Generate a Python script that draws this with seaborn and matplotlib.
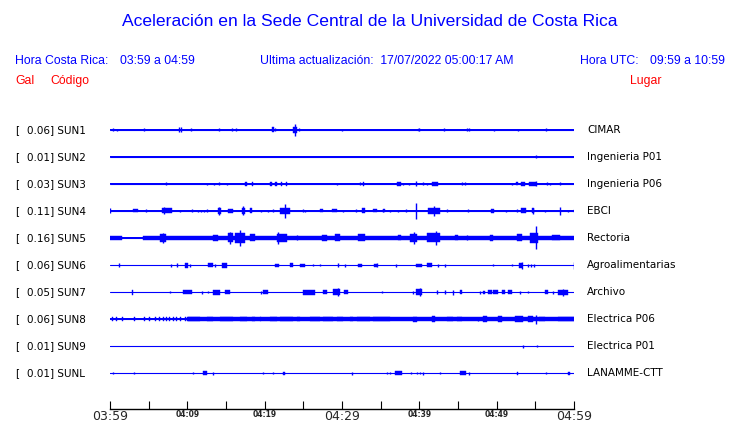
import numpy as np
import pandas as pd
import seaborn as sns
import matplotlib.pyplot as plt

# estaciones (de arriba hacia abajo)
codigos = ["SUN1", "SUN2", "SUN3", "SUN4", "SUN5", "SUN6", "SUN7", "SUN8", "SUN9", "SUNL"]
lugares = ["CIMAR", "Ingenieria P01", "Ingenieria P06", "EBCI", "Rectoria",
           "Agroalimentarias", "Archivo", "Electrica P06", "Electrica P01", "LANAMME-CTT"]
gal_max = [0.06, 0.01, 0.03, 0.11, 0.16, 0.06, 0.05, 0.06, 0.01, 0.01]
# ruido de fondo (media amplitud, en px de trazo)
ruido = [0.5, 0.5, 0.5, 0.6, 1.3, 0.5, 0.5, 1.0, 0.5, 0.5]

# eje de tiempo: minutos desde 03:59
minutos_ticks = [0, 5, 10, 15, 20, 25, 30, 35, 40, 45, 50, 55, 60]
etiquetas_grandes = {0: "03:59", 30: "04:29", 60: "04:59"}
etiquetas_chicas = {10: "04:09", 20: "04:19", 40: "04:39", 50: "04:49"}

# picos: (minuto, media amplitud)
picos = {
    "SUN1": [(0.39, 1.5), (0.91, 1), (4.40, 1.5), (8.92, 2.5), (9.12, 2.5), (10.47, 1.5),
             (14.09, 1.5), (15.77, 1.5), (16.29, 1.5), (21.33, 1.5), (23.92, 6), (24.44, 1.5),
             (30.00, 1), (39.95, 1.5), (43.19, 1.5), (46.16, 1.5), (46.42, 1.5), (49.65, 1),
             (52.76, 1), (56.38, 1.5)],
    "SUN2": [(55.08, 1.5)],
    "SUN3": [(7.24, 1.5), (12.54, 1), (13.45, 1), (14.09, 1.5), (15.13, 1), (29.35, 1),
             (32.33, 1.5), (37.88, 1), (38.66, 1), (39.57, 2.5), (40.47, 1.5), (40.99, 1),
             (45.51, 1.5), (45.90, 1.5), (51.98, 1), (55.08, 2.5), (56.51, 1.5), (56.90, 1),
             (58.19, 1.5)],
    "SUN4": [(0.06, 2.5), (4.66, 1.5), (6.98, 3.5), (9.05, 1), (10.60, 1.5), (11.38, 1),
             (11.77, 1), (12.15, 1), (12.54, 1.5), (14.09, 4), (17.20, 4.5), (19.52, 1),
             (20.43, 1), (21.08, 1.5), (22.63, 7), (24.95, 1.5), (25.21, 1), (30.13, 1),
             (31.81, 1.5), (35.30, 1.5), (36.20, 1), (37.24, 1), (38.27, 1.5), (39.57, 8),
             (41.89, 5), (43.58, 1.5), (46.29, 1.5), (51.20, 1), (52.63, 1.5), (54.70, 3),
             (56.25, 1), (58.19, 4), (59.22, 1), (60.0, 1.5)],
    "SUN5": [(6.85, 5), (15.52, 6), (16.81, 8), (21.72, 6), (24.18, 2.5), (39.31, 6),
             (42.15, 7), (46.16, 2.5), (55.08, 11.5)],
    "SUN6": [(1.16, 2), (7.89, 1.5), (8.66, 2), (10.34, 1.5), (13.58, 1.5), (26.25, 1),
             (27.15, 1), (29.48, 2), (30.39, 1.5), (34.52, 2), (36.98, 1.5), (42.41, 1.5),
             (43.32, 1.5), (49.52, 1), (51.98, 1), (53.27, 3.5), (54.05, 1.5), (54.44, 1.5),
             (54.83, 1.5), (60.0, 3.5)],
    "SUN7": [(7.76, 1), (11.90, 1.5), (12.67, 1), (19.52, 1.5), (29.48, 4), (35.17, 1),
             (39.18, 1.5), (40.08, 4), (42.28, 2), (43.32, 2), (44.35, 2.5), (47.84, 1.5),
             (53.01, 1.5), (54.05, 1), (57.28, 1.5), (58.58, 3.5)],
    "SUN8": [(47.58, 2), (55.08, 4.5)],
    "SUN9": [(53.40, 1.5), (55.21, 1)],
    "SUNL": [(0.39, 1), (3.10, 1), (10.73, 1), (13.32, 1.5), (19.78, 1), (21.08, 1),
             (31.29, 1.5), (35.82, 1), (36.20, 1), (38.92, 1), (39.70, 1), (40.08, 1),
             (40.47, 1.5), (42.67, 1), (46.42, 1.5), (56.38, 1)],
}

# rafagas: (minuto inicio, minuto fin, media amplitud)
rafagas = {
    "SUN1": [(20.95, 21.21, 2.5), (23.66, 24.18, 3), (39.82, 40.08, 1.2)],
    "SUN2": [],
    "SUN3": [(17.46, 17.66, 2), (18.30, 18.49, 2), (20.69, 20.95, 2), (21.40, 21.59, 2),
             (22.05, 22.24, 2), (22.70, 22.89, 2), (32.71, 32.90, 2), (37.11, 37.63, 2),
             (41.64, 42.41, 2), (52.50, 52.70, 1.5), (53.14, 53.66, 2), (54.18, 55.08, 2)],
    "SUN4": [(2.97, 3.62, 1.5), (6.72, 8.02, 2.5), (13.96, 14.35, 3), (15.26, 15.90, 2),
             (17.07, 17.46, 3), (18.10, 18.36, 2.5), (21.98, 23.27, 3), (27.15, 27.54, 1.5),
             (28.70, 29.35, 1.5), (32.58, 32.97, 2.5), (34.01, 34.52, 1.5), (35.30, 35.56, 1.5),
             (41.12, 42.67, 3), (49.26, 49.65, 2), (53.14, 53.79, 2.5), (54.57, 54.83, 2.5)],
    "SUN5": [(0.0, 1.55, 2.2), (4.27, 60.0, 2.0), (6.47, 7.24, 4), (13.32, 13.96, 3),
             (15.26, 15.90, 4.5), (16.16, 17.46, 5), (18.10, 18.75, 3.5), (21.59, 22.89, 4),
             (27.41, 28.06, 3), (29.09, 29.74, 3.5), (32.07, 32.97, 3.5), (37.24, 37.63, 2.5),
             (38.79, 39.70, 4), (40.99, 42.67, 4.5), (44.61, 45.00, 2.5), (49.13, 49.52, 3),
             (52.63, 53.27, 3.5), (54.31, 55.34, 5), (57.15, 58.19, 2.5)],
    "SUN6": [(9.70, 10.09, 2.5), (12.67, 13.32, 2), (14.48, 15.13, 2.5), (21.33, 21.85, 1.5),
             (23.27, 23.66, 2), (24.57, 25.21, 1.5), (32.07, 32.58, 1.5), (34.14, 34.52, 1.5),
             (39.57, 40.34, 1.5), (40.99, 41.64, 2), (52.89, 53.27, 2.5)],
    "SUN7": [(2.84, 2.97, 2.5), (9.44, 10.60, 2), (13.32, 14.22, 2.5), (14.87, 15.52, 2),
             (19.78, 20.43, 2), (24.95, 26.51, 2.5), (27.54, 28.06, 2), (28.83, 29.74, 3),
             (30.26, 30.77, 2), (39.57, 40.34, 3), (45.26, 45.51, 2), (48.23, 48.49, 1.5),
             (48.88, 49.39, 2), (49.52, 50.17, 2), (50.69, 51.07, 2), (51.46, 51.98, 2),
             (56.25, 56.64, 2), (57.93, 59.22, 2.5)],
    "SUN8": [(0.26, 0.39, 1.8), (0.78, 0.91, 1.8), (1.55, 1.68, 1.8), (3.10, 3.23, 1.8),
             (4.40, 4.53, 1.8), (5.04, 5.17, 1.8), (5.82, 5.95, 1.8), (6.34, 6.47, 1.8),
             (6.85, 6.98, 1.8), (7.24, 7.37, 1.8), (7.63, 7.76, 1.8), (8.15, 8.28, 1.8),
             (8.53, 8.66, 1.8), (9.05, 9.18, 1.8), (9.70, 9.83, 1.8),
             (9.96, 60.0, 1.8), (10.09, 11.64, 2.2), (12.54, 13.32, 2.2), (14.22, 15.90, 2.2),
             (16.81, 17.71, 2.2), (18.36, 18.75, 2.2), (19.39, 19.52, 2.2), (20.69, 21.59, 2.2),
             (21.98, 23.66, 2.2), (24.18, 24.57, 2.2), (25.86, 27.15, 2.2), (27.54, 28.83, 2.2),
             (29.35, 30.13, 2.2), (31.03, 31.42, 2.2), (31.94, 33.62, 2.2), (34.01, 36.20, 2.2),
             (39.18, 39.70, 2.5), (41.64, 42.02, 3), (43.58, 44.35, 2.2), (44.87, 45.51, 2.2),
             (48.23, 48.75, 3), (50.17, 50.69, 3), (52.37, 53.40, 2.8), (54.05, 54.70, 2.8),
             (55.47, 56.25, 2.2), (57.93, 60.0, 2.3)],
    "SUN9": [],
    "SUNL": [(12.03, 12.54, 2), (22.37, 22.63, 1.5), (36.85, 37.76, 2), (45.26, 46.03, 2),
             (52.63, 52.76, 1.5), (59.22, 59.48, 1.5)],
}

azul = "#0000ff"
rojo = "#ff0000"
PX = 1 / 27.0  # separacion entre trazos = 27 px

sns.set_style("white")
plt.rcParams["font.family"] = ["DejaVu Sans"]

fig = plt.figure(figsize=(7.4, 4.23), dpi=100)
ax = fig.add_axes([110 / 740, 14 / 423, 464 / 740, 297 / 423])

# lineas base
base = pd.DataFrame({
    "estacion": np.repeat(codigos, 2),
    "minuto": [0, 60] * len(codigos),
    "pos": np.repeat(np.arange(len(codigos)), 2),
})
sns.lineplot(data=base, x="minuto", y="pos", units="estacion", estimator=None,
             color=azul, lw=0.8, ax=ax, legend=False)

for i, cod in enumerate(codigos):
    r = ruido[i] * PX
    ax.fill_between([0, 60], i - r, i + r, color=azul, lw=0)
    for t0, t1, a in rafagas[cod]:
        ax.bar(t0, 2 * a * PX, width=t1 - t0, bottom=i - a * PX, align="edge",
               color=azul, edgecolor=azul, lw=0.3)
    if picos[cod]:
        t, a = zip(*picos[cod])
        a = np.array(a) * PX
        ax.vlines(t, i - a, i + a, color=azul, lw=1.0)

ax.set_xlim(0, 60)
ax.set_ylim(len(codigos) + 1 / 3, -2 / 3)
ax.set_yticks([])
for s in ["top", "left", "right"]:
    ax.spines[s].set_visible(False)
ax.spines["bottom"].set_color("black")
ax.spines["bottom"].set_linewidth(1)
ax.set_xlabel("")
ax.set_ylabel("")
ax.set_xticks(minutos_ticks)
ax.tick_params(axis="x", bottom=True, direction="in", length=6, width=0.8,
               color="black", pad=1)
labs = []
for m in minutos_ticks:
    labs.append(etiquetas_grandes.get(m, etiquetas_chicas.get(m, "")))
ax.set_xticklabels(labs)
for m, lab in zip(minutos_ticks, ax.get_xticklabels()):
    if m in etiquetas_grandes:
        lab.set_fontsize(9)
    else:
        lab.set_fontsize(5.5)
        lab.set_fontweight("bold")

# textos de cabecera
def px(x, y):
    return x / 740, 1 - y / 423

cab = dict(color=azul, fontsize=8.8, family="Liberation Sans", va="center")
fig.text(*px(370, 22), "Aceleración en la Sede Central de la Universidad de Costa Rica",
         color=azul, fontsize=12.6, family="Liberation Sans", ha="center", va="center")
fig.text(*px(15, 61), "Hora Costa Rica:", **cab)
fig.text(*px(120, 61), "03:59 a 04:59", **cab)
fig.text(*px(260, 61), "Ultima actualización:  17/07/2022 05:00:17 AM", **cab)
fig.text(*px(580, 61), "Hora UTC:", **cab)
fig.text(*px(650, 61), "09:59 a 10:59", **cab)
roj = dict(cab, color=rojo)
fig.text(*px(15, 81), "Gal", **roj)
fig.text(*px(50, 81), "Código", **roj)
fig.text(*px(630, 81), "Lugar", **roj)

# etiquetas de estaciones
for i, cod in enumerate(codigos):
    y = 130 + 27 * i
    fig.text(*px(15, y), "[", fontsize=7.5, color="black", va="center")
    fig.text(*px(27, y), f"{gal_max[i]:.2f}] {cod}", fontsize=7.5, color="black", va="center")
    fig.text(*px(587, y), lugares[i], fontsize=7.5, color="black", va="center")

fig.savefig("out.png", dpi=100)
